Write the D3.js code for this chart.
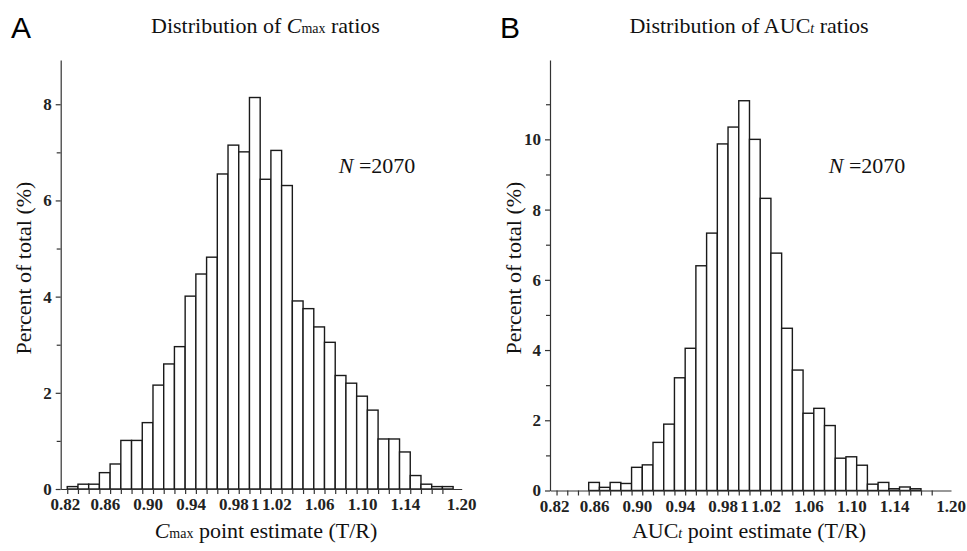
<!DOCTYPE html>
<html>
<head>
<meta charset="utf-8">
<script src="https://cdn.jsdelivr.net/npm/d3@7"></script>
<style>
  body { margin: 0; background: #fff; }
  svg { display: block; }
  .serif { font-family: "Liberation Serif", "Times New Roman", serif; fill: #111; }
  .tick text { font-family: "Liberation Serif", serif; font-size: 17px; font-weight: bold; fill: #222; }
  .domain, .tick line { stroke: #333; stroke-width: 1.2; }
</style>
</head>
<body>
<div id="chart"></div>
<script>
//
// Two histograms of T/R point estimates (Cmax and AUCt), N = 2070 each.
//

// bin midpoints (bin width 0.01)
var cmaxBins = [0.83, 0.84, 0.85, 0.86, 0.87, 0.88, 0.89, 0.90, 0.91, 0.92, 0.93, 0.94,
                0.95, 0.96, 0.97, 0.98, 0.99, 1.00, 1.01, 1.02, 1.03, 1.04, 1.05, 1.06,
                1.07, 1.08, 1.09, 1.10, 1.11, 1.12, 1.13, 1.14, 1.15, 1.16, 1.17, 1.18];
var cmaxPct  = [0.05, 0.10, 0.10, 0.34, 0.52, 1.01, 1.01, 1.38, 2.16, 2.60, 2.96, 4.01,
                4.47, 4.82, 6.55, 7.15, 7.01, 8.14, 6.44, 7.04, 6.31, 3.91, 3.75, 3.37,
                3.05, 2.36, 2.20, 1.93, 1.64, 1.04, 1.04, 0.77, 0.28, 0.10, 0.05, 0.05];

var aucBins = [0.86, 0.87, 0.88, 0.89, 0.90, 0.91, 0.92, 0.93, 0.94, 0.95, 0.96, 0.97,
               0.98, 0.99, 1.00, 1.01, 1.02, 1.03, 1.04, 1.05, 1.06, 1.07, 1.08, 1.09,
               1.10, 1.11, 1.12, 1.13, 1.14, 1.15, 1.16];
var aucPct  = [0.23, 0.09, 0.23, 0.20, 0.66, 0.73, 1.37, 1.89, 3.21, 4.05, 6.40, 7.33,
               9.87, 10.35, 11.10, 10.00, 8.32, 6.76, 4.62, 3.43, 2.20, 2.34, 1.85, 0.92,
               0.96, 0.72, 0.18, 0.23, 0.05, 0.10, 0.05];

var xTickVals   = [0.82, 0.86, 0.90, 0.94, 0.98, 1.00, 1.02, 1.06, 1.10, 1.14, 1.20];
var xTickLabels = ["0.82", "0.86", "0.90", "0.94", "0.98", "1", "1.02", "1.06", "1.10", "1.14", "1.20"];

var cmaxYMajor = [0, 2, 4, 6, 8];
var cmaxYMinor = [1, 3, 5, 7];
var aucYMajor  = [0, 2, 4, 6, 8, 10];
var aucYMinor  = [1, 3, 5, 7, 9, 11];

var sampleN = "2070";
var binWidth = 0.01;

const width = 967, height = 551;
const plotW = 401;

const svg = d3.select('#chart').append('svg')
  .attr('width', width)
  .attr('height', height);

// minor ticks on x sit on the bin edges
var edgeTicks = cmaxBins.map(d => d - binWidth / 2);

function drawPanel(left, top, baseY, bins, pct, yMax, yMajor, yMinor)
{
  const g = svg.append('g').attr('transform', `translate(${left},${top})`);

  const x = d3.scaleLinear().domain([0.8189, 1.193]).range([0, plotW]);
  const y = d3.scaleLinear().domain([0, yMax]).range([baseY, 0]);

  // bars
  g.selectAll('rect.bar').data(bins).enter().append('rect')
    .attr('class', 'bar')
    .attr('x', d => x(d - binWidth / 2))
    .attr('width', d => x(d + binWidth / 2) - x(d - binWidth / 2))
    .attr('y', (d, i) => y(pct[i]))
    .attr('height', (d, i) => y(0) - y(pct[i]))
    .style('fill', '#fff')
    .style('stroke', '#1a1a1a')
    .style('stroke-width', 1.4);

  // x axis: edge ticks, then labels
  g.append('g')
    .attr('transform', `translate(0,${baseY})`)
    .call(d3.axisBottom(x).tickValues(edgeTicks).tickSize(5).tickSizeOuter(0).tickFormat(''));
  g.append('g')
    .attr('transform', `translate(0,${baseY})`)
    .call(d3.axisBottom(x).tickValues(xTickVals).tickSize(0).tickPadding(9)
      .tickFormat((d, i) => xTickLabels[i]))
    .call(a => a.select('.domain').remove())
    .call(a => a.selectAll('.tick:first-of-type text').attr('dx', 3))
    .call(a => a.selectAll('.tick:last-of-type text').attr('dx', -8));

  // y axis
  g.append('g')
    .call(d3.axisLeft(y).tickValues(yMinor).tickSize(4).tickSizeOuter(0).tickFormat(''));
  g.append('g')
    .call(d3.axisLeft(y).tickValues(yMajor).tickSize(5).tickPadding(4).tickFormat(d => d))
    .call(a => a.select('.domain').remove());

  return g;
}

drawPanel(60.7, 60, 429, cmaxBins, cmaxPct, 8.92, cmaxYMajor, cmaxYMinor);
drawPanel(550, 60, 430.5, aucBins, aucPct, 12.26, aucYMajor, aucYMinor);

// panel letters
svg.append('text').text('A')
  .attr('x', 11).attr('y', 38)
  .style('font-family', '"Liberation Sans", Arial, sans-serif').style('font-size', '30px');
svg.append('text').text('B')
  .attr('x', 500).attr('y', 38)
  .style('font-family', '"Liberation Sans", Arial, sans-serif').style('font-size', '30px');

// titles with small subscripts
function titleText(cx, cy, parts, rotate)
{
  var t = svg.append('text').attr('class', 'serif')
    .attr('text-anchor', 'middle')
    .style('font-size', '22px');
  if(rotate)
    t.attr('transform', `translate(${cx},${cy}) rotate(-90)`);
  else
    t.attr('x', cx).attr('y', cy);
  parts.forEach(p => {
    var s = t.append('tspan').text(p.t);
    if(p.i) s.style('font-style', 'italic');
    if(p.s) s.style('font-size', '14px');
  });
}

titleText(265.5, 33, [{t: 'Distribution of '}, {t: 'C', i: true}, {t: 'max', s: true}, {t: ' ratios'}]);
titleText(749, 33, [{t: 'Distribution of AUC'}, {t: 't', i: true, s: true}, {t: ' ratios'}]);
titleText(266, 538, [{t: 'C', i: true}, {t: 'max', s: true}, {t: ' point estimate (T/R)'}]);
titleText(749, 538, [{t: 'AUC'}, {t: 't', i: true, s: true}, {t: ' point estimate (T/R)'}]);
titleText(31, 268, [{t: 'Percent of total (%)'}], true);
titleText(521, 268, [{t: 'Percent of total (%)'}], true);

// sample size notes
titleText(377, 173, [{t: 'N', i: true}, {t: ' =' + sampleN}]);
titleText(867, 173, [{t: 'N', i: true}, {t: ' =' + sampleN}]);
</script>
</body>
</html>
